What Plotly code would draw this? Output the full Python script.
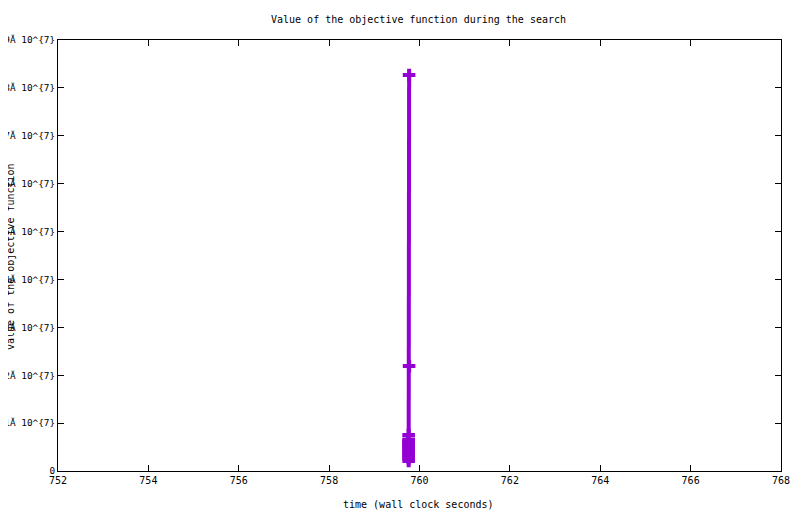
import plotly.graph_objects as go

# objective value over wall clock time (all points fall around 759.76 s)
times = [759.77, 759.77, 759.76, 759.76, 759.76, 759.76, 759.76, 759.76, 759.76,
         759.76, 759.76, 759.76, 759.76, 759.76, 759.76, 759.76, 759.76, 759.76]
values = [8.27e7, 2.19e7, 0.75e7, 0.66e7, 0.63e7, 0.60e7, 0.57e7, 0.54e7, 0.51e7,
          0.48e7, 0.45e7, 0.42e7, 0.38e7, 0.35e7, 0.32e7, 0.29e7, 0.26e7, 0.21e7]

tick_vals = [i * 1e7 for i in range(10)]
tick_text = ["0"] + ["%dĂ 10^{7}" % i for i in range(1, 10)]

mono = "DejaVu Sans Mono"
purple = "#9400D3"

fig = go.Figure()
fig.add_trace(go.Scatter(
    x=times, y=values, mode="lines+markers",
    line=dict(color=purple, width=4),
    marker=dict(symbol="cross-thin", size=9, line=dict(color=purple, width=4)),
    showlegend=False,
))

# the page body has an 8px margin, so the figure sits at (8, 8) in the window
fig.update_layout(
    width=800, height=514,
    margin=dict(l=50, r=27, t=32, b=51),
    paper_bgcolor="white", plot_bgcolor="white",
    font=dict(family=mono, size=10, color="black"),
)

# window pixel -> paper coordinates of the plot area (58..781, 40..471)
def px(x):
    return (x - 58) / 723
def py(y):
    return (471 - y) / 431

fig.layout.annotations = [
    dict(text="Value of the objective function during the search", x=px(418), y=py(20),
         xref="paper", yref="paper", showarrow=False, xanchor="center", yanchor="middle"),
    dict(text="time (wall clock seconds)", x=px(418), y=py(505),
         xref="paper", yref="paper", showarrow=False, xanchor="center", yanchor="middle"),
    dict(text="value of the objective function", x=px(10), y=py(257), textangle=-90,
         xref="paper", yref="paper", showarrow=False, xanchor="center", yanchor="middle"),
]

fig.update_xaxes(
    range=[752, 768], dtick=2, tick0=752, showgrid=False, zeroline=False,
    showline=True, linecolor="black", linewidth=1, mirror="allticks",
    ticks="inside", ticklen=6, tickcolor="black", automargin=False,
)
fig.update_yaxes(
    range=[0, 9e7], tickvals=tick_vals, ticktext=tick_text, showgrid=False, zeroline=False,
    showline=True, linecolor="black", linewidth=1, mirror="allticks",
    ticks="inside", ticklen=6, tickcolor="black", automargin=False,
    tickfont=dict(size=9.4),
)

fig.write_html("out.html")
